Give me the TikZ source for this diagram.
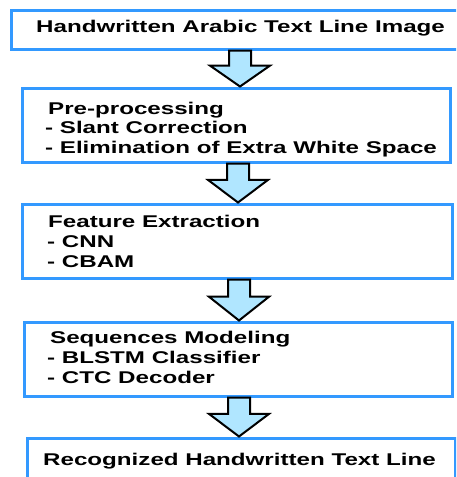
\documentclass[tikz,border=0pt]{standalone}
\usepackage{fontspec}
\setmainfont{Liberation Sans}[FakeStretch=1.42]
\usetikzlibrary{fit,calc}
\definecolor{boxblue}{RGB}{51,153,255}
\definecolor{arrowfill}{RGB}{176,230,255}

% hollow block arrow from the bottom of one box to the top of the next
\newcommand\flowarrow[3]{%
  \draw[blockarrow] let \p1=(#1.south), \p2=(#2.north) in
    ({#3pt-11pt},\y1) -- ({#3pt+11pt},\y1)
    -- ({#3pt+11pt},{\y1+0.42*(\y2-\y1)})
    -- ({#3pt+30pt},{\y1+0.42*(\y2-\y1)})
    -- ({#3pt},\y2)
    -- ({#3pt-30pt},{\y1+0.42*(\y2-\y1)})
    -- ({#3pt-11pt},{\y1+0.42*(\y2-\y1)}) -- cycle;}

\begin{document}
\begin{tikzpicture}[x=1pt,y=-1pt,
  box/.style={draw=boxblue,line width=3pt,inner sep=0pt},
  lbl/.style={anchor=base west,inner sep=0pt,
    font=\bfseries\fontsize{17}{20}\selectfont},
  blockarrow/.style={draw=black,line width=2pt,fill=arrowfill,line join=miter}]
\useasboundingbox (0,0) rectangle (456,477);
\clip (0,0) rectangle (456,477);

% stage boxes
\node[box,fit={(11,10) (460,49)}] (b1) {};
\node[box,fit={(22,88) (450,162)}] (b2) {};
\node[box,fit={(22,204) (452,278)}] (b3) {};
\node[box,fit={(24,322) (452,396)}] (b4) {};
\node[box,fit={(27,438) (455,495)}] (b5) {};

% stage texts
\node[lbl] (t1) at (36,32) {Handwritten Arabic Text Line Image};

\node[lbl] (t2a) at (48,114) {Pre-processing};
\node[lbl] (t2b) at (45,133.5) {- Slant Correction};
\node[lbl] (t2c) at (45,153) {- Elimination of Extra White Space};

\node[lbl] (t3a) at (48,227) {Feature Extraction};
\node[lbl] (t3b) at (47,247) {- CNN};
\node[lbl] (t3c) at (47,267) {- CBAM};

\node[lbl] (t4a) at (50,343) {Sequences Modeling};
\node[lbl] (t4b) at (47,363) {- BLSTM Classifier};
\node[lbl] (t4c) at (47,383) {- CTC Decoder};

\node[lbl] (t5) at (43,465) {Recognized Handwritten Text Line};

% arrows between stages
\flowarrow{b1}{b2}{240}
\flowarrow{b2}{b3}{238}
\flowarrow{b3}{b4}{239}
\flowarrow{b4}{b5}{239}
\end{tikzpicture}
\end{document}
